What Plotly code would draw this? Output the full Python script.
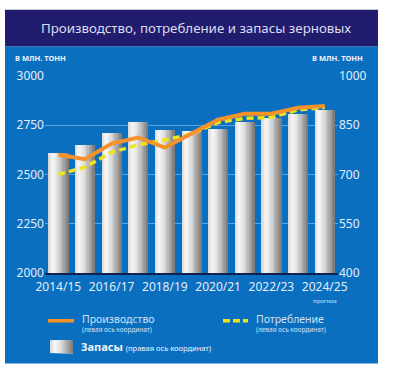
import plotly.graph_objects as go

seasons = ["2014/15", "2015/16", "2016/17", "2017/18", "2018/19", "2019/20",
           "2020/21", "2021/22", "2022/23", "2023/24", "2024/25"]
production = [2600, 2578, 2657, 2688, 2637, 2710, 2778, 2808, 2809, 2839, 2848]
consumption = [2500, 2537, 2613, 2650, 2675, 2705, 2765, 2785, 2790, 2828, 2840]
stocks = [767, 791, 827, 859, 837, 833, 839, 860, 871, 885, 897]
tick_labels = seasons[::2]

W, H = 401, 378
L, R, T, B = 45, 338, 75.5, 273.5


def px(x):
    return (x - L) / (R - L)


def py(y):
    return (B - y) / (B - T)


fig = go.Figure()

# gradient bars built from overlapping slices
N = 16
bar_w = 0.75
stops = [(0.0, (212, 212, 212)), (0.2, (248, 248, 248)), (0.45, (224, 224, 224)),
         (1.0, (120, 120, 120))]


def grad(t):
    for (t0, c0), (t1, c1) in zip(stops[:-1], stops[1:]):
        if t0 <= t <= t1:
            f = (t - t0) / (t1 - t0)
            return "rgb(%d,%d,%d)" % tuple(round(a + (b - a) * f) for a, b in zip(c0, c1))
    return "rgb(120,120,120)"


for i in range(N):
    off = -bar_w / 2 + i * bar_w / N
    fig.add_trace(go.Bar(
        x=seasons, y=stocks, yaxis="y",
        width=bar_w - i * bar_w / N, offset=off,
        marker=dict(color=grad((i + 0.5) / N), line=dict(width=0)),
        showlegend=False, name="Запасы"))

fig.add_trace(go.Scatter(x=seasons, y=consumption, yaxis="y2", mode="lines",
                         line=dict(color="#ece51e", width=3.5, dash="7px,4px"),
                         name="Потребление", showlegend=False))
fig.add_trace(go.Scatter(x=seasons, y=production, yaxis="y2", mode="lines",
                         line=dict(color="#f5922a", width=4),
                         name="Производство", showlegend=False))

tick_font = dict(family="Noto Sans", size=12, color="#e4edf7")

fig.update_layout(
    width=W, height=H,
    margin=dict(l=L, r=W - R, t=T, b=H - B, pad=0),
    paper_bgcolor="white",
    plot_bgcolor="rgba(0,0,0,0)",
    barmode="overlay",
    bargap=0,
    xaxis=dict(type="category", range=[-0.5, 10.5], tickvals=tick_labels,
               ticktext=tick_labels, showgrid=False, showline=True,
               linecolor="#10204a", linewidth=2, ticks="", tickfont=tick_font,
               zeroline=False, ticklabelstandoff=2),
    yaxis=dict(side="right", range=[400, 1000], tickvals=[400, 550, 700, 850, 1000],
               showgrid=True, gridcolor="#5aa2e0", gridwidth=1, zeroline=False,
               ticks="", tickfont=tick_font, showline=False),
    yaxis2=dict(side="left", overlaying="y", range=[2000, 3000],
                tickvals=[2000, 2250, 2500, 2750, 3000], showgrid=False,
                zeroline=False, ticks="", tickfont=tick_font, showline=False),
    showlegend=False,
)

shapes = [
    dict(type="rect", xref="paper", yref="paper", x0=px(5), x1=px(378),
         y0=py(364.5), y1=py(45.5), fillcolor="#0b6fbf", line=dict(width=0),
         layer="below"),
    dict(type="rect", xref="paper", yref="paper", x0=px(5), x1=px(378),
         y0=py(45.5), y1=py(9), fillcolor="#221c6e",
         line=dict(width=0), layer="below"),
    # legend symbols
    dict(type="line", xref="paper", yref="paper", x0=px(48), x1=px(74),
         y0=py(321.5), y1=py(321.5), line=dict(color="#f5922a", width=3.5)),
    dict(type="line", xref="paper", yref="paper", x0=px(223), x1=px(248),
         y0=py(321.5), y1=py(321.5), line=dict(color="#ece51e", width=3.5, dash="7px,3px")),
]
# gradient legend box
nb = 12
for i in range(nb):
    x0 = 50 + i * 23 / nb
    shapes.append(dict(type="rect", xref="paper", yref="paper", x0=px(x0), x1=px(73),
                       y0=py(354), y1=py(341), fillcolor=grad((i + 0.5) / nb),
                       line=dict(width=0)))
fig.update_layout(shapes=shapes)

anns = [
    dict(text="Производство, потребление и запасы зерновых", x=px(196), y=py(27.5),
         font=dict(family="Noto Sans", size=13.3, color="#dcdcf0"),
         xanchor="center", yanchor="middle"),
    dict(text="<b>В МЛН. ТОНН</b>", x=px(13), y=py(57), xanchor="left",
         font=dict(family="Noto Sans", size=7.5, color="#f2f6fb")),
    dict(text="<b>В МЛН. ТОНН</b>", x=px(365), y=py(57), xanchor="right",
         font=dict(family="Noto Sans", size=7.5, color="#f2f6fb")),
    dict(text="прогноз", x=px(324.5), y=py(301.5), xanchor="center",
         font=dict(family="Noto Sans", size=6, color="#cfe0f2")),
    dict(text="Производство", x=px(80), y=py(320), xanchor="left",
         font=dict(family="Noto Sans", size=10.5, color="#cfe2f5")),
    dict(text="(левая ось координат)", x=px(80), y=py(330.5), xanchor="left",
         font=dict(family="Noto Sans", size=6.5, color="#cfe2f5")),
    dict(text="Потребление", x=px(254), y=py(320), xanchor="left",
         font=dict(family="Noto Sans", size=10.5, color="#cfe2f5")),
    dict(text="(левая ось координат)", x=px(254), y=py(330.5), xanchor="left",
         font=dict(family="Noto Sans", size=6.5, color="#cfe2f5")),
    dict(text="<b>Запасы</b> <span style='font-size:7.5px'>(правая ось координат)</span>",
         x=px(79), y=py(347.5), xanchor="left",
         font=dict(family="Noto Sans", size=11, color="#f2f6fb")),
]
for a in anns:
    a.setdefault("yanchor", "middle")
    fig.add_annotation(xref="paper", yref="paper", showarrow=False, **a)

fig.write_html("out.html", config={"displayModeBar": False},
               post_script="document.body.style.margin='0';")
